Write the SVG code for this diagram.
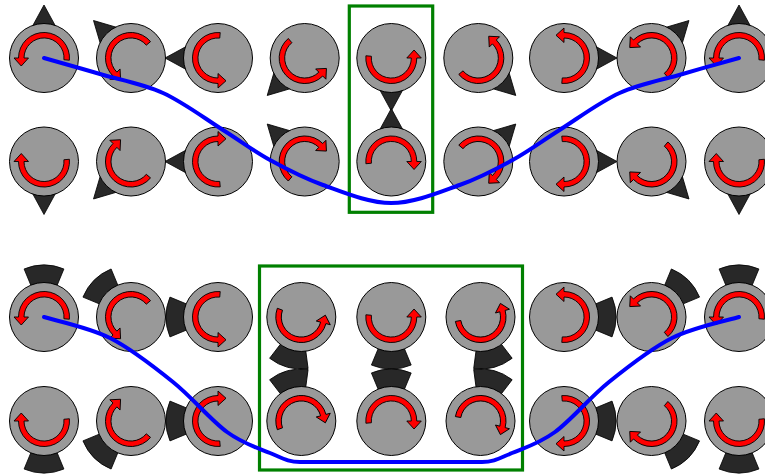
<svg xmlns="http://www.w3.org/2000/svg" xmlns:xlink="http://www.w3.org/1999/xlink" width="765" height="474" viewBox="0 0 765 474">
<style>
.rotor{fill:#999999;stroke:#000;stroke-width:1}
.arr{fill:#ff0000;stroke:#000;stroke-width:0.9;stroke-linejoin:miter}
.mag{fill:#282828;stroke:#000;stroke-width:0.8}
.frame{fill:none;stroke:#008000;stroke-width:3.2}
.wall{fill:none;stroke:#0000ff;stroke-width:4;stroke-linecap:round;stroke-linejoin:round}
</style>
<defs>
<path id="arrow" d="M25.4 2.22A25.5 25.5 0 1 0 -25.5 0H-30L-22.75 8L-15.5 0H-20A20 20 0 1 1 19.92 1.74Z"/>
<path id="tri" d="M0 -53L18 -20L-18 -20Z"/>
<path id="wedge" d="M-19.9 -48.04A52 52 0 0 1 19.9 -48.04L10.72 -25.87A28 28 0 0 0 -10.72 -25.87Z"/>
<circle id="disc" r="34.5"/>
</defs>

<g id="frames">
<rect class="frame" x="349.3" y="6" width="83.4" height="206.3"/>
<rect class="frame" x="259.5" y="266" width="263" height="204"/>
</g>

<!-- top section, row 1 -->
<g id="t1-0" transform="translate(44 58)"><use href="#tri" class="mag" transform="rotate(0)"/><use href="#disc" class="rotor"/><use href="#arrow" class="arr" transform="rotate(0)"/></g>
<g id="t1-1" transform="translate(131 58)"><use href="#tri" class="mag" transform="rotate(-45)"/><use href="#disc" class="rotor"/><use href="#arrow" class="arr" transform="rotate(-45)"/></g>
<g id="t1-2" transform="translate(218 58)"><use href="#tri" class="mag" transform="rotate(-90)"/><use href="#disc" class="rotor"/><use href="#arrow" class="arr" transform="rotate(-90)"/></g>
<g id="t1-3" transform="translate(304.7 58)"><use href="#tri" class="mag" transform="rotate(-135)"/><use href="#disc" class="rotor"/><use href="#arrow" class="arr" transform="rotate(-135)"/></g>
<g id="t1-4" transform="translate(391.3 58)"><use href="#tri" class="mag" transform="rotate(-180)"/><use href="#disc" class="rotor"/><use href="#arrow" class="arr" transform="rotate(-180)"/></g>
<g id="t1-5" transform="translate(478.3 58)"><use href="#tri" class="mag" transform="rotate(-225)"/><use href="#disc" class="rotor"/><use href="#arrow" class="arr" transform="rotate(-225)"/></g>
<g id="t1-6" transform="translate(564 58)"><use href="#tri" class="mag" transform="rotate(-270)"/><use href="#disc" class="rotor"/><use href="#arrow" class="arr" transform="rotate(-270)"/></g>
<g id="t1-7" transform="translate(651.5 58)"><use href="#tri" class="mag" transform="rotate(-315)"/><use href="#disc" class="rotor"/><use href="#arrow" class="arr" transform="rotate(-315)"/></g>
<g id="t1-8" transform="translate(739 58)"><use href="#tri" class="mag" transform="rotate(-360)"/><use href="#disc" class="rotor"/><use href="#arrow" class="arr" transform="rotate(-360)"/></g>

<!-- top section, row 2 (mirrored) -->
<g id="t2-0" transform="translate(44 161.5)"><use href="#tri" class="mag" transform="scale(1 -1) rotate(0)"/><use href="#disc" class="rotor"/><use href="#arrow" class="arr" transform="scale(1 -1) rotate(0)"/></g>
<g id="t2-1" transform="translate(131 161.5)"><use href="#tri" class="mag" transform="scale(1 -1) rotate(-45)"/><use href="#disc" class="rotor"/><use href="#arrow" class="arr" transform="scale(1 -1) rotate(-45)"/></g>
<g id="t2-2" transform="translate(218 161.5)"><use href="#tri" class="mag" transform="scale(1 -1) rotate(-90)"/><use href="#disc" class="rotor"/><use href="#arrow" class="arr" transform="scale(1 -1) rotate(-90)"/></g>
<g id="t2-3" transform="translate(304.7 161.5)"><use href="#tri" class="mag" transform="scale(1 -1) rotate(-135)"/><use href="#disc" class="rotor"/><use href="#arrow" class="arr" transform="scale(1 -1) rotate(-135)"/></g>
<g id="t2-4" transform="translate(391.3 161.5)"><use href="#tri" class="mag" transform="scale(1 -1) rotate(-180)"/><use href="#disc" class="rotor"/><use href="#arrow" class="arr" transform="scale(1 -1) rotate(-180)"/></g>
<g id="t2-5" transform="translate(478.3 161.5)"><use href="#tri" class="mag" transform="scale(1 -1) rotate(-225)"/><use href="#disc" class="rotor"/><use href="#arrow" class="arr" transform="scale(1 -1) rotate(-225)"/></g>
<g id="t2-6" transform="translate(564 161.5)"><use href="#tri" class="mag" transform="scale(1 -1) rotate(-270)"/><use href="#disc" class="rotor"/><use href="#arrow" class="arr" transform="scale(1 -1) rotate(-270)"/></g>
<g id="t2-7" transform="translate(651.5 161.5)"><use href="#tri" class="mag" transform="scale(1 -1) rotate(-315)"/><use href="#disc" class="rotor"/><use href="#arrow" class="arr" transform="scale(1 -1) rotate(-315)"/></g>
<g id="t2-8" transform="translate(739 161.5)"><use href="#tri" class="mag" transform="scale(1 -1) rotate(-360)"/><use href="#disc" class="rotor"/><use href="#arrow" class="arr" transform="scale(1 -1) rotate(-360)"/></g>

<!-- bottom section, row 1 -->
<g id="b1-0" transform="translate(44 317)"><use href="#wedge" class="mag" transform="rotate(0)"/><use href="#disc" class="rotor"/><use href="#arrow" class="arr" transform="rotate(0)"/></g>
<g id="b1-1" transform="translate(131 317)"><use href="#wedge" class="mag" transform="rotate(-45)"/><use href="#disc" class="rotor"/><use href="#arrow" class="arr" transform="rotate(-45)"/></g>
<g id="b1-2" transform="translate(218 317)"><use href="#wedge" class="mag" transform="rotate(-90)"/><use href="#disc" class="rotor"/><use href="#arrow" class="arr" transform="rotate(-90)"/></g>
<g id="b1-3" transform="translate(301.3 317)"><use href="#wedge" class="mag" transform="rotate(-165)"/><use href="#disc" class="rotor"/><use href="#arrow" class="arr" transform="rotate(-165)"/></g>
<g id="b1-4" transform="translate(391.3 317)"><use href="#wedge" class="mag" transform="rotate(-180)"/><use href="#disc" class="rotor"/><use href="#arrow" class="arr" transform="rotate(-180)"/></g>
<g id="b1-5" transform="translate(480.5 317)"><use href="#wedge" class="mag" transform="rotate(-195)"/><use href="#disc" class="rotor"/><use href="#arrow" class="arr" transform="rotate(-195)"/></g>
<g id="b1-6" transform="translate(564 317)"><use href="#wedge" class="mag" transform="rotate(-270)"/><use href="#disc" class="rotor"/><use href="#arrow" class="arr" transform="rotate(-270)"/></g>
<g id="b1-7" transform="translate(651.5 317)"><use href="#wedge" class="mag" transform="rotate(-315)"/><use href="#disc" class="rotor"/><use href="#arrow" class="arr" transform="rotate(-315)"/></g>
<g id="b1-8" transform="translate(739 317)"><use href="#wedge" class="mag" transform="rotate(-360)"/><use href="#disc" class="rotor"/><use href="#arrow" class="arr" transform="rotate(-360)"/></g>

<!-- bottom section, row 2 (mirrored) -->
<g id="b2-0" transform="translate(44 421)"><use href="#wedge" class="mag" transform="scale(1 -1) rotate(0)"/><use href="#disc" class="rotor"/><use href="#arrow" class="arr" transform="scale(1 -1) rotate(0)"/></g>
<g id="b2-1" transform="translate(131 421)"><use href="#wedge" class="mag" transform="scale(1 -1) rotate(-45)"/><use href="#disc" class="rotor"/><use href="#arrow" class="arr" transform="scale(1 -1) rotate(-45)"/></g>
<g id="b2-2" transform="translate(218 421)"><use href="#wedge" class="mag" transform="scale(1 -1) rotate(-90)"/><use href="#disc" class="rotor"/><use href="#arrow" class="arr" transform="scale(1 -1) rotate(-90)"/></g>
<g id="b2-3" transform="translate(301.3 421)"><use href="#wedge" class="mag" transform="scale(1 -1) rotate(-165)"/><use href="#disc" class="rotor"/><use href="#arrow" class="arr" transform="scale(1 -1) rotate(-165)"/></g>
<g id="b2-4" transform="translate(391.3 421)"><use href="#wedge" class="mag" transform="scale(1 -1) rotate(-180)"/><use href="#disc" class="rotor"/><use href="#arrow" class="arr" transform="scale(1 -1) rotate(-180)"/></g>
<g id="b2-5" transform="translate(480.5 421)"><use href="#wedge" class="mag" transform="scale(1 -1) rotate(-195)"/><use href="#disc" class="rotor"/><use href="#arrow" class="arr" transform="scale(1 -1) rotate(-195)"/></g>
<g id="b2-6" transform="translate(564 421)"><use href="#wedge" class="mag" transform="scale(1 -1) rotate(-270)"/><use href="#disc" class="rotor"/><use href="#arrow" class="arr" transform="scale(1 -1) rotate(-270)"/></g>
<g id="b2-7" transform="translate(651.5 421)"><use href="#wedge" class="mag" transform="scale(1 -1) rotate(-315)"/><use href="#disc" class="rotor"/><use href="#arrow" class="arr" transform="scale(1 -1) rotate(-315)"/></g>
<g id="b2-8" transform="translate(739 421)"><use href="#wedge" class="mag" transform="scale(1 -1) rotate(-360)"/><use href="#disc" class="rotor"/><use href="#arrow" class="arr" transform="scale(1 -1) rotate(-360)"/></g>

<g id="connectors">
<path class="wall" d="M44 58 C53.3 60.7 80.2 68.2 100 74 C119.8 79.8 142.5 83.7 163 93 C183.5 102.3 205.2 118.8 223 130 C240.8 141.2 253.3 150.8 270 160 C286.7 169.2 302.8 177.8 323 185 C343.2 192.2 368.5 203 391.3 203 C414.1 203 439.4 192.2 459.6 185 C479.8 177.8 495.9 169.2 512.6 160 C529.3 150.8 541.8 141.2 559.6 130 C577.4 118.8 599.1 102.3 619.6 93 C640.1 83.7 662.8 79.8 682.6 74 C702.4 68.2 729.3 60.7 739 58"/>
<path class="wall" d="M44 317 C55 320.5 88.5 327.2 110 338 C131.5 348.8 153.5 366.3 173 382 C192.5 397.7 210.8 420.2 227 432 C243.2 443.8 257.8 448 270 453 C282.2 458 288 462 300 462 H482 C494 462 499.8 458 512 453 C524.2 448 538.8 443.8 555 432 C571.2 420.2 589.5 397.7 609 382 C628.5 366.3 650.5 348.8 672 338 C693.5 327.2 727 320.5 739 317"/>
</g>
</svg>
